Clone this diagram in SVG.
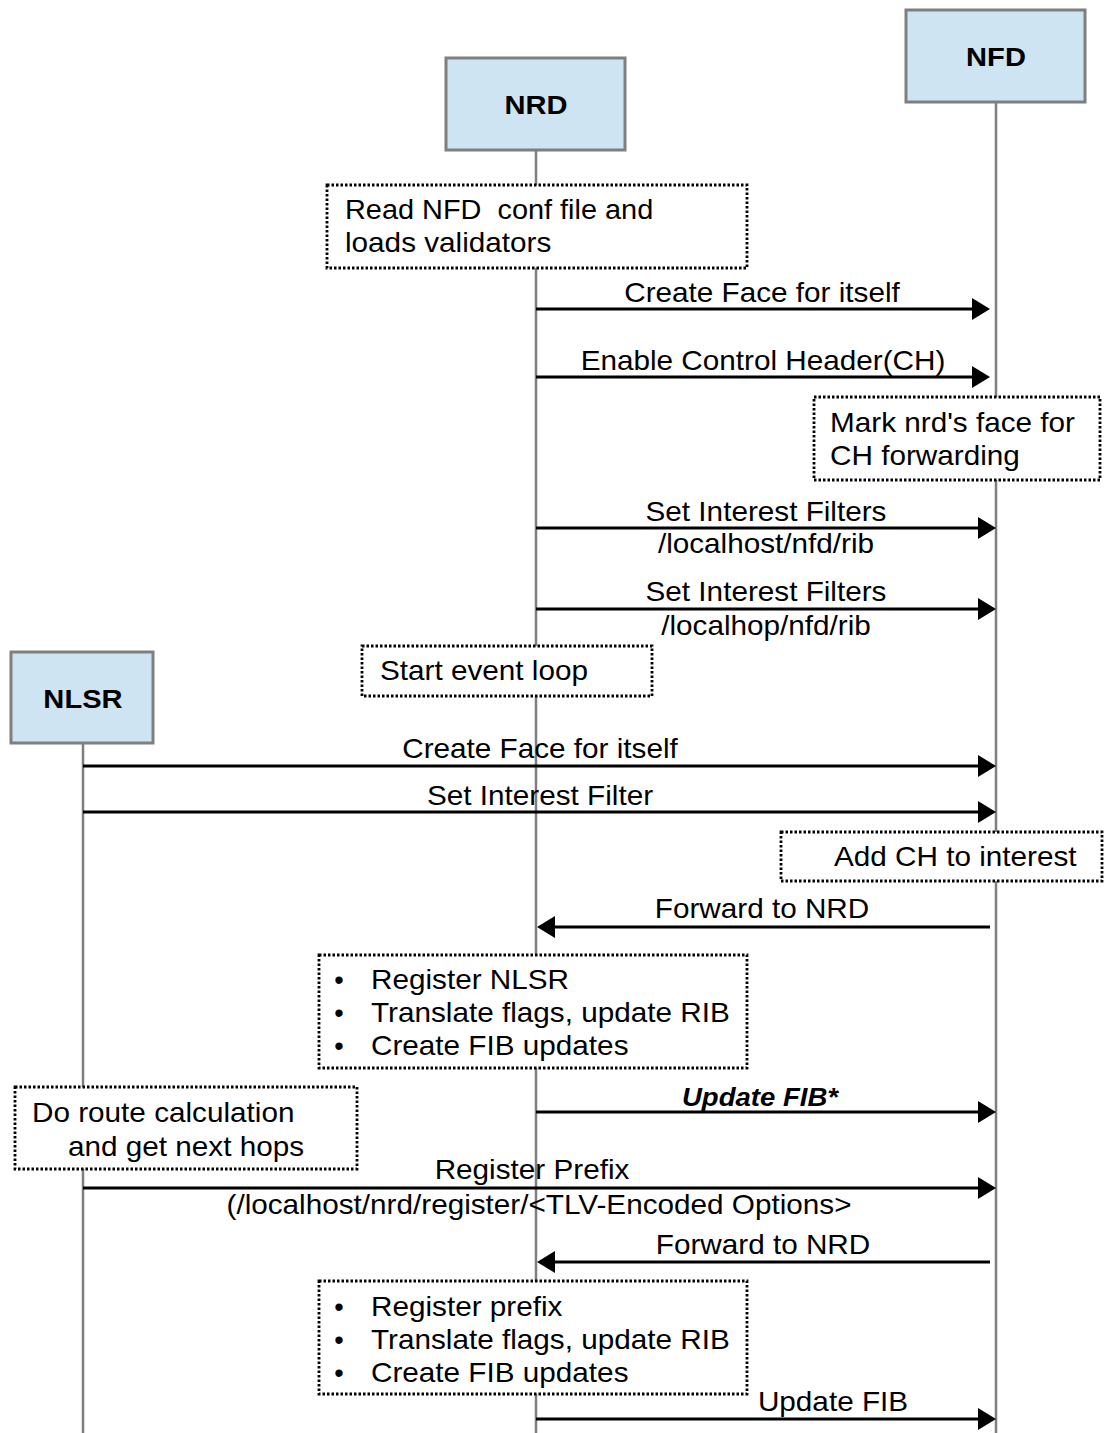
<svg xmlns="http://www.w3.org/2000/svg" width="1106" height="1433" viewBox="0 0 1106 1433">
<style>
.hdr{fill:#cfe4f3;stroke:#7f7f7f;stroke-width:3}
.life{stroke:#7f7f7f;stroke-width:2.5;fill:none}
.note{fill:#ffffff;stroke:#000;stroke-width:2.8;stroke-dasharray:2.5 2}
.msg{stroke:#000;stroke-width:3;fill:none}
text{font-family:"Liberation Sans",Arial,sans-serif;font-size:27px;fill:#000}
.b{font-weight:bold;font-size:26px}
.m{text-anchor:middle}
</style>
<defs>
<marker id="ah" markerUnits="userSpaceOnUse" markerWidth="18" markerHeight="22" refX="8" refY="11" orient="auto">
<path d="M0,0 L18,11 L0,22 z" fill="#000"/>
</marker>
</defs>
<rect width="1106" height="1433" fill="#fff"/>
<g id="nfd">
<line class="life" x1="996" y1="102" x2="996" y2="1433"/>
<rect class="hdr" x="906" y="10" width="179" height="92"/>
<text class="b m" transform="translate(996,66) scale(1.12,1)">NFD</text>
</g>
<g id="nrd">
<line class="life" x1="536" y1="150" x2="536" y2="1433"/>
<rect class="hdr" x="446" y="58" width="179" height="92"/>
<text class="b m" transform="translate(536,114) scale(1.12,1)">NRD</text>
</g>
<g id="nlsr">
<line class="life" x1="83" y1="743" x2="83" y2="1433"/>
<rect class="hdr" x="11" y="652" width="142" height="91"/>
<text class="b m" transform="translate(83,708) scale(1.12,1)">NLSR</text>
</g>
<g id="connectors">
<line class="msg" x1="536" y1="309" x2="980" y2="309" marker-end="url(#ah)"/>
<line class="msg" x1="536" y1="377" x2="980" y2="377" marker-end="url(#ah)"/>
<line class="msg" x1="536" y1="528" x2="986" y2="528" marker-end="url(#ah)"/>
<line class="msg" x1="536" y1="609" x2="986" y2="609" marker-end="url(#ah)"/>
<line class="msg" x1="83" y1="766" x2="986" y2="766" marker-end="url(#ah)"/>
<line class="msg" x1="83" y1="812" x2="986" y2="812" marker-end="url(#ah)"/>
<line class="msg" x1="990" y1="927" x2="547" y2="927" marker-end="url(#ah)"/>
<line class="msg" x1="536" y1="1112" x2="986" y2="1112" marker-end="url(#ah)"/>
<line class="msg" x1="83" y1="1188" x2="986" y2="1188" marker-end="url(#ah)"/>
<line class="msg" x1="990" y1="1262" x2="547" y2="1262" marker-end="url(#ah)"/>
<line class="msg" x1="536" y1="1419" x2="986" y2="1419" marker-end="url(#ah)"/>
<text class="m" transform="translate(762,302) scale(1.1,1)">Create Face for itself</text>
<text class="m" transform="translate(763,370) scale(1.1,1)">Enable Control Header(CH)</text>
<text class="m" transform="translate(766,521) scale(1.1,1)">Set Interest Filters</text>
<text class="m" transform="translate(766,553) scale(1.1,1)">/localhost/nfd/rib</text>
<text class="m" transform="translate(766,601) scale(1.1,1)">Set Interest Filters</text>
<text class="m" transform="translate(766,635) scale(1.1,1)">/localhop/nfd/rib</text>
<text class="m" transform="translate(540,758) scale(1.1,1)">Create Face for itself</text>
<text class="m" transform="translate(540,805) scale(1.1,1)">Set Interest Filter</text>
<text class="m" transform="translate(762,918) scale(1.1,1)">Forward to NRD</text>
<text class="b m" font-style="italic" transform="translate(760,1106) scale(1.06,1)">Update FIB*</text>
<text class="m" transform="translate(532,1179) scale(1.1,1)">Register Prefix</text>
<text class="m" transform="translate(539,1214) scale(1.1,1)">(/localhost/nrd/register/&lt;TLV-Encoded Options&gt;</text>
<text class="m" transform="translate(763,1254) scale(1.1,1)">Forward to NRD</text>
<text class="m" transform="translate(833,1411) scale(1.1,1)">Update FIB</text>
</g>
<g id="note-read-conf">
<rect class="note" x="327" y="185" width="420" height="83"/>
<text transform="translate(345,219) scale(1.07,1)" style="white-space:pre">Read NFD  conf file and</text>
<text transform="translate(345,252) scale(1.1,1)">loads validators</text>
</g>
<g id="note-mark-face">
<rect class="note" x="814" y="397" width="286" height="83"/>
<text transform="translate(830,432) scale(1.1,1)">Mark nrd's face for</text>
<text transform="translate(830,465) scale(1.1,1)">CH forwarding</text>
</g>
<g id="note-event-loop">
<rect class="note" x="362" y="646" width="290" height="50"/>
<text transform="translate(380,680) scale(1.1,1)">Start event loop</text>
</g>
<g id="note-add-ch">
<rect class="note" x="781" y="832" width="321" height="49"/>
<text transform="translate(834,866) scale(1.1,1)">Add CH to interest</text>
</g>
<g id="note-register-nlsr">
<rect class="note" x="319" y="955" width="428" height="113"/>
<text class="m" x="339" y="989">•</text>
<text transform="translate(371,989) scale(1.1,1)">Register NLSR</text>
<text class="m" x="339" y="1022">•</text>
<text transform="translate(371,1022) scale(1.1,1)">Translate flags, update RIB</text>
<text class="m" x="339" y="1055">•</text>
<text transform="translate(371,1055) scale(1.1,1)">Create FIB updates</text>
</g>
<g id="note-route-calc">
<rect class="note" x="15" y="1087" width="342" height="82"/>
<text transform="translate(32,1122) scale(1.1,1)">Do route calculation</text>
<text transform="translate(68,1156) scale(1.1,1)">and get next hops</text>
</g>
<g id="note-register-prefix">
<rect class="note" x="319" y="1281" width="428" height="113"/>
<text class="m" x="339" y="1316">•</text>
<text transform="translate(371,1316) scale(1.1,1)">Register prefix</text>
<text class="m" x="339" y="1349">•</text>
<text transform="translate(371,1349) scale(1.1,1)">Translate flags, update RIB</text>
<text class="m" x="339" y="1382">•</text>
<text transform="translate(371,1382) scale(1.1,1)">Create FIB updates</text>
</g>
</svg>
